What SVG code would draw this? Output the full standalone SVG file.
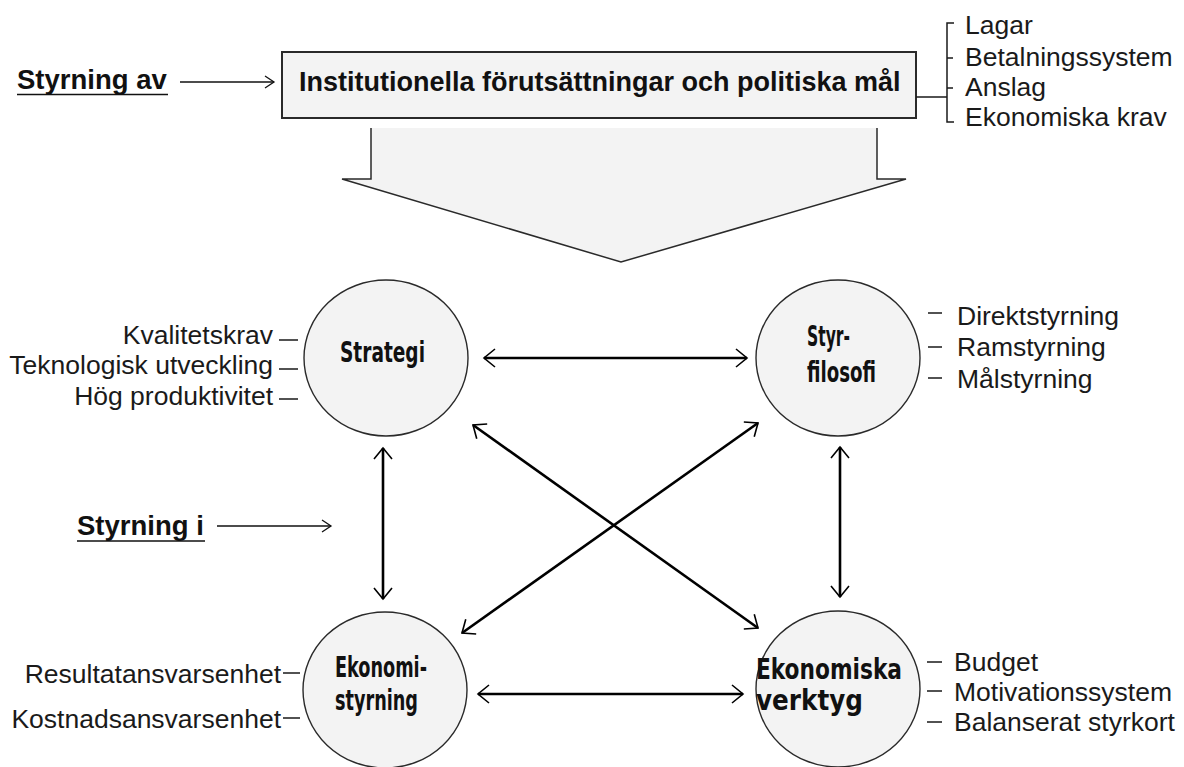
<svg xmlns="http://www.w3.org/2000/svg" width="1184" height="767" viewBox="0 0 1184 767">
  <style>
    .lbl { font-family: "Liberation Sans", Arial, sans-serif; font-size: 26.5px; fill: #1a1a1a; }
    .head { font-family: "Liberation Sans", Arial, sans-serif; font-weight: bold; fill: #111; }
    .cl { font-family: "DejaVu Sans Condensed", "DejaVu Sans", sans-serif; font-weight: bold; font-stretch: condensed; font-size: 28px; fill: #111; }
    .node { fill: #f3f3f3; stroke: #2a2a2a; stroke-width: 1.4; }
    .tick { stroke: #1a1a1a; stroke-width: 1.5; fill: none; }
    .conn { stroke: #000; stroke-width: 2.6; fill: none; marker-start: url(#open); marker-end: url(#open); }
    .thin { stroke: #111; stroke-width: 1.3; fill: none; marker-end: url(#small); }
  </style>
  <defs>
    <marker id="open" viewBox="-14 -11 16 22" refX="0" refY="0" markerWidth="16" markerHeight="22" markerUnits="userSpaceOnUse" orient="auto-start-reverse">
      <path d="M-11,-9 L0,0 L-11,9" fill="none" stroke="#000" stroke-width="1.6"/>
    </marker>
    <marker id="small" viewBox="-11 -8 13 16" refX="0" refY="0" markerWidth="13" markerHeight="16" markerUnits="userSpaceOnUse" orient="auto">
      <path d="M-9,-6 L0,0 L-9,6" fill="none" stroke="#111" stroke-width="1.3"/>
    </marker>
  </defs>
  <rect width="1184" height="767" fill="#fff"/>

  <!-- "Styrning av" heading with pointer to the top box -->
  <g id="styrning-av">
    <text class="head" x="17" y="89" font-size="27.5">Styrning av</text>
    <line x1="17" y1="94.5" x2="168" y2="94.5" stroke="#111" stroke-width="1.5"/>
    <line class="thin" x1="180" y1="82" x2="274" y2="82"/>
  </g>

  <!-- Top box -->
  <g id="institutionella">
    <rect x="282" y="52" width="634" height="66" fill="#f3f3f3" stroke="#2a2a2a" stroke-width="2"/>
    <text class="head" x="299" y="91" font-size="27">Institutionella förutsättningar och politiska mål</text>
  </g>

  <!-- Bracket list to the right of the top box -->
  <g id="villkor">
    <path class="tick" d="M916,97 H947 M954,23 H947 V122 H954 M947,58 H953 M947,88 H953"/>
    <text class="lbl" x="965" y="34">Lagar</text>
    <text class="lbl" x="965" y="66">Betalningssystem</text>
    <text class="lbl" x="965" y="96">Anslag</text>
    <text class="lbl" x="965" y="126">Ekonomiska krav</text>
  </g>

  <!-- Broad downward block arrow -->
  <g id="block-arrow">
    <polygon points="371,128 371,179 342,179 621,262 906,179 877,179 877,128" fill="#f3f3f3"/>
    <path d="M371,128 V179 H342 L621,262 L906,179 H877 V128" fill="none" stroke="#2a2a2a" stroke-width="1.5"/>
  </g>

  <!-- "Styrning i" heading -->
  <g id="styrning-i">
    <text class="head" x="77" y="535" font-size="27.5">Styrning i</text>
    <line x1="77" y1="541" x2="205" y2="541" stroke="#111" stroke-width="1.5"/>
    <line class="thin" x1="217" y1="526" x2="331" y2="526"/>
  </g>

  <!-- Connectors between the four circles -->
  <g id="connectors">
    <line class="conn" x1="484" y1="358" x2="747" y2="358"/>
    <line class="conn" x1="478" y1="694" x2="743" y2="694"/>
    <line class="conn" x1="383" y1="448" x2="383" y2="599"/>
    <line class="conn" x1="840" y1="447" x2="840" y2="597"/>
    <line class="conn" x1="473" y1="425" x2="758" y2="628"/>
    <line class="conn" x1="758" y1="423" x2="462" y2="633"/>
  </g>

  <!-- Strategi -->
  <g id="strategi">
    <ellipse class="node" cx="386" cy="358" rx="82" ry="78"/>
    <text class="cl" x="340" y="362" textLength="85" lengthAdjust="spacingAndGlyphs">Strategi</text>
    <path class="tick" d="M279,340 H298 M279,369 H298 M279,399 H298"/>
    <text class="lbl" x="273" y="344" text-anchor="end">Kvalitetskrav</text>
    <text class="lbl" x="273" y="374" text-anchor="end">Teknologisk utveckling</text>
    <text class="lbl" x="273" y="405" text-anchor="end">Hög produktivitet</text>
  </g>

  <!-- Styrfilosofi -->
  <g id="styrfilosofi">
    <ellipse class="node" cx="838" cy="358" rx="82" ry="78"/>
    <text class="cl" x="807" y="346" textLength="43" lengthAdjust="spacingAndGlyphs">Styr-</text>
    <text class="cl" x="807" y="382" textLength="69" lengthAdjust="spacingAndGlyphs">filosofi</text>
    <path class="tick" d="M928,313 H942 M928,347 H942 M928,378 H942"/>
    <text class="lbl" x="957" y="325">Direktstyrning</text>
    <text class="lbl" x="957" y="356">Ramstyrning</text>
    <text class="lbl" x="957" y="388">Målstyrning</text>
  </g>

  <!-- Ekonomistyrning -->
  <g id="ekonomistyrning">
    <ellipse class="node" cx="385" cy="690" rx="82" ry="78"/>
    <text class="cl" x="335" y="677" textLength="92" lengthAdjust="spacingAndGlyphs">Ekonomi-</text>
    <text class="cl" x="335" y="710" textLength="83" lengthAdjust="spacingAndGlyphs">styrning</text>
    <path class="tick" d="M283,673 H300 M283,718 H300"/>
    <text class="lbl" x="281" y="683" text-anchor="end">Resultatansvarsenhet</text>
    <text class="lbl" x="281" y="728" text-anchor="end">Kostnadsansvarsenhet</text>
  </g>

  <!-- Ekonomiska verktyg -->
  <g id="ekonomiska-verktyg">
    <ellipse class="node" cx="838" cy="689" rx="82" ry="78"/>
    <text class="cl" x="756" y="679" textLength="146" lengthAdjust="spacingAndGlyphs">Ekonomiska</text>
    <text class="cl" x="756" y="710" textLength="107" lengthAdjust="spacingAndGlyphs">verktyg</text>
    <path class="tick" d="M927,662 H942 M927,691 H942 M927,722 H942"/>
    <text class="lbl" x="954" y="671">Budget</text>
    <text class="lbl" x="954" y="701">Motivationssystem</text>
    <text class="lbl" x="954" y="731">Balanserat styrkort</text>
  </g>
</svg>
